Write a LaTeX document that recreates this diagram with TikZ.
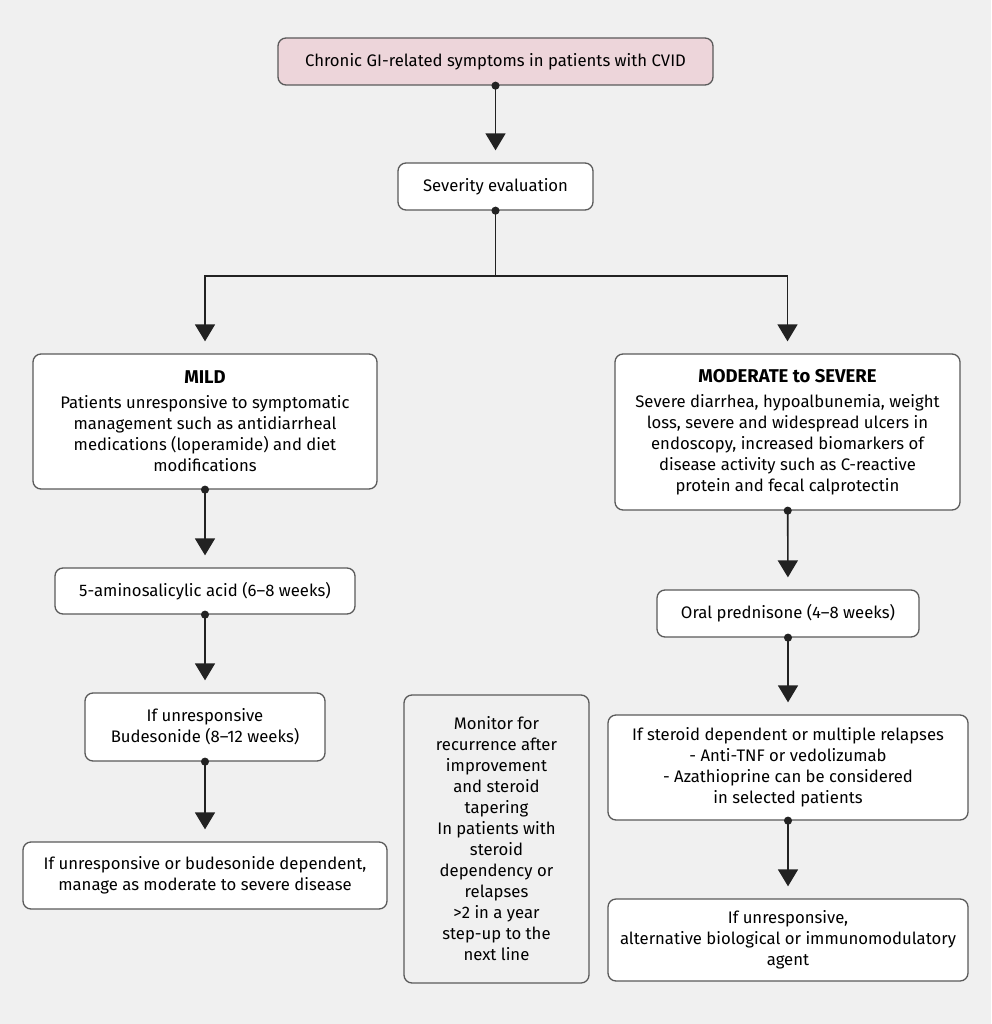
\documentclass[tikz,border=0pt]{standalone}
\usepackage{fontspec}
\setmainfont{Fira Sans}
\usetikzlibrary{arrows.meta}

\definecolor{bgcol}{HTML}{F0F0F0}
\definecolor{topcol}{HTML}{EDD5DA}
\definecolor{edgecol}{HTML}{5A5A5A}
\definecolor{linecol}{HTML}{222222}

\newcommand{\boxtitle}[1]{{\fontsize{18.5}{21}\selectfont\textbf{#1}}}

\tikzset{
    box/.style={draw=edgecol, line width=1.3pt, rounded corners=8pt, fill=white,
        align=center, inner sep=0pt, font=\fontsize{16.7}{21}\selectfont},
    flow/.style={color=linecol, line width=1.6pt,
        {Circle[length=8pt]}-{Triangle[width=20pt,length=17pt]},
        shorten <=-4pt, shorten >=12pt},
    flowstart/.style={color=linecol, line width=1.6pt,
        {Circle[length=8pt]}-, shorten <=-4pt},
    flowend/.style={color=linecol, line width=1.6pt,
        -{Triangle[width=20pt,length=17pt]}, shorten >=12pt}
}

\begin{document}
\begin{tikzpicture}[x=1pt, y=-1pt]
    \fill[bgcol] (0,0) rectangle (991,1024);
    \useasboundingbox (0,0) rectangle (991,1024);

    % top of the chart
    \node[box, fill=topcol, minimum width=435pt, minimum height=47pt] (symptoms) at (495.5,61.5)
        {Chronic GI-related symptoms in patients with CVID};
    \node[box, minimum width=195pt, minimum height=47pt] (severity) at (495.5,186.5)
        {Severity evaluation};

    % mild branch
    \node[box, minimum width=344pt, minimum height=135pt] (mild) at (205,421.5)
        {\boxtitle{MILD}\\[4pt]Patients unresponsive to symptomatic\\management such as antidiarrheal\\medications (loperamide) and diet\\modifications};
    \node[box, minimum width=300pt, minimum height=46pt] (asa) at (205,591)
        {5-aminosalicylic acid (6--8 weeks)};
    \node[box, minimum width=240pt, minimum height=68pt] (budesonide) at (205,727)
        {If unresponsive\\Budesonide (8--12 weeks)};
    \node[box, minimum width=364pt, minimum height=67pt] (mildend) at (205,875.5)
        {If unresponsive or budesonide dependent,\\manage as moderate to severe disease};

    % middle note
    \node[box, fill=bgcol, minimum width=185pt, minimum height=288pt] (monitor) at (496.5,839)
        {Monitor for\\recurrence after\\improvement\\and steroid\\tapering\\In patients with\\steroid\\dependency or\\relapses\\>2 in a year\\step-up to the\\next line};

    % moderate to severe branch
    \node[box, minimum width=345pt, minimum height=156pt] (severe) at (787.5,432)
        {\boxtitle{MODERATE to SEVERE}\\[4pt]Severe diarrhea, hypoalbunemia, weight\\loss, severe and widespread ulcers in\\endoscopy, increased biomarkers of\\disease activity such as C-reactive\\protein and fecal calprotectin};
    \node[box, minimum width=262pt, minimum height=47pt] (prednisone) at (788,613.5)
        {Oral prednisone (4--8 weeks)};
    \node[box, minimum width=360pt, minimum height=105pt] (steroid) at (788,767.5)
        {If steroid dependent or multiple relapses\\- Anti-TNF or vedolizumab\\- Azathioprine can be considered\\in selected patients};
    \node[box, minimum width=360pt, minimum height=82pt] (severeend) at (788,940)
        {If unresponsive,\\alternative biological or immunomodulatory\\agent};

    % connectors
    \coordinate (fork) at (495.5,276);
    \draw[flow] (symptoms) -- (severity);
    \draw[flowstart] (severity.south) -- (fork);
    \draw[flowend] (fork) -| (mild.north);
    \draw[flowend] (fork) -| (severe.north);
    \draw[flow] (mild) -- (asa);
    \draw[flow] (asa) -- (budesonide);
    \draw[flow] (budesonide) -- (mildend);
    \draw[flow] (severe) -- (prednisone);
    \draw[flow] (prednisone) -- (steroid);
    \draw[flow] (steroid) -- (severeend);
\end{tikzpicture}
\end{document}
